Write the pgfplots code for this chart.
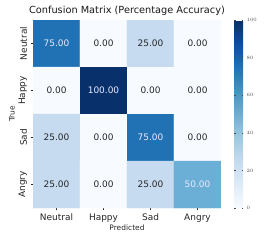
\documentclass[border=0pt]{standalone}
\usepackage{pgfplots}
\pgfplotsset{compat=1.18}
\usepackage{fontspec}
\setmainfont{DejaVu Sans}
\begin{document}
\begin{tikzpicture}[x=1bp,y=1bp]
\useasboundingbox (-33,-33) rectangle (233,208);
\begin{axis}[
  at={(0,0)}, anchor=south west,
  scale only axis, width=188bp, height=188bp,
  xmin=-0.5, xmax=3.5, ymin=-0.5, ymax=3.5,
  y dir=reverse,
  axis line style={draw=none},
  xtick={0,1,2,3}, ytick={0,1,2,3},
  xticklabels={Neutral,Happy,Sad,Angry},
  yticklabels={Neutral,Happy,Sad,Angry},
  yticklabel style={rotate=90, anchor=south, font=\fontsize{9}{10}\selectfont, text=black!85},
  xticklabel style={font=\fontsize{9}{10}\selectfont, text=black!85},
  tick style={black!85, line width=0.5pt},
  major tick length=2.5pt,
  tick pos=left, tick align=outside,
  xlabel={Predicted}, ylabel={True},
  xlabel style={font=\fontsize{7.5}{8}\selectfont, yshift=4pt, text=black!85},
  ylabel style={font=\fontsize{7.5}{8}\selectfont, yshift=-3pt, text=black!85},
  title={Confusion Matrix (Percentage Accuracy)},
  title style={font=\fontsize{9.8}{11}\selectfont, yshift=-5.5pt, text=black!90},
  colormap={blues}{
    rgb255(0)=(247,251,255) rgb255(1)=(222,235,247) rgb255(2)=(198,219,239)
    rgb255(3)=(158,202,225) rgb255(4)=(107,174,214) rgb255(5)=(66,146,198)
    rgb255(6)=(33,113,181) rgb255(7)=(8,81,156) rgb255(8)=(8,48,107)},
  point meta min=0, point meta max=100,
  colorbar,
  colorbar style={
    at={(1.07,1)}, anchor=north west,
    width=9bp, height=188bp,
    ytick={0,20,40,60,80,100},
    yticklabel style={font=\fontsize{3}{3.5}\selectfont, text=black!70},
    major tick length=1.5pt,
    tick style={black!70, line width=0.3pt},
    axis line style={draw=none},
    y dir=normal,
  },
]
\addplot[matrix plot*, mesh/cols=4, point meta=explicit] coordinates {
  (0,0) [75] (1,0) [0] (2,0) [25] (3,0) [0]

  (0,1) [0] (1,1) [100] (2,1) [0] (3,1) [0]

  (0,2) [25] (1,2) [0] (2,2) [75] (3,2) [0]

  (0,3) [25] (1,3) [0] (2,3) [25] (3,3) [50]
};
\addplot[only marks, mark=none, point meta=explicit symbolic,
  nodes near coords, nodes near coords align={center},
  every node near coord/.append style={font=\fontsize{9}{10}\selectfont, text=white!92!blue, anchor=center}]
  coordinates {(0,0)[75.00] (1,1)[100.00] (2,2)[75.00] (3,3)[50.00]};
\addplot[only marks, mark=none, point meta=explicit symbolic,
  nodes near coords, nodes near coords align={center},
  every node near coord/.append style={font=\fontsize{9}{10}\selectfont, text=black!85, anchor=center}]
  coordinates {(1,0)[0.00] (2,0)[25.00] (3,0)[0.00]
   (0,1)[0.00] (2,1)[0.00] (3,1)[0.00]
   (0,2)[25.00] (1,2)[0.00] (3,2)[0.00]
   (0,3)[25.00] (1,3)[0.00] (2,3)[25.00]};
\end{axis}
\end{tikzpicture}
\end{document}
